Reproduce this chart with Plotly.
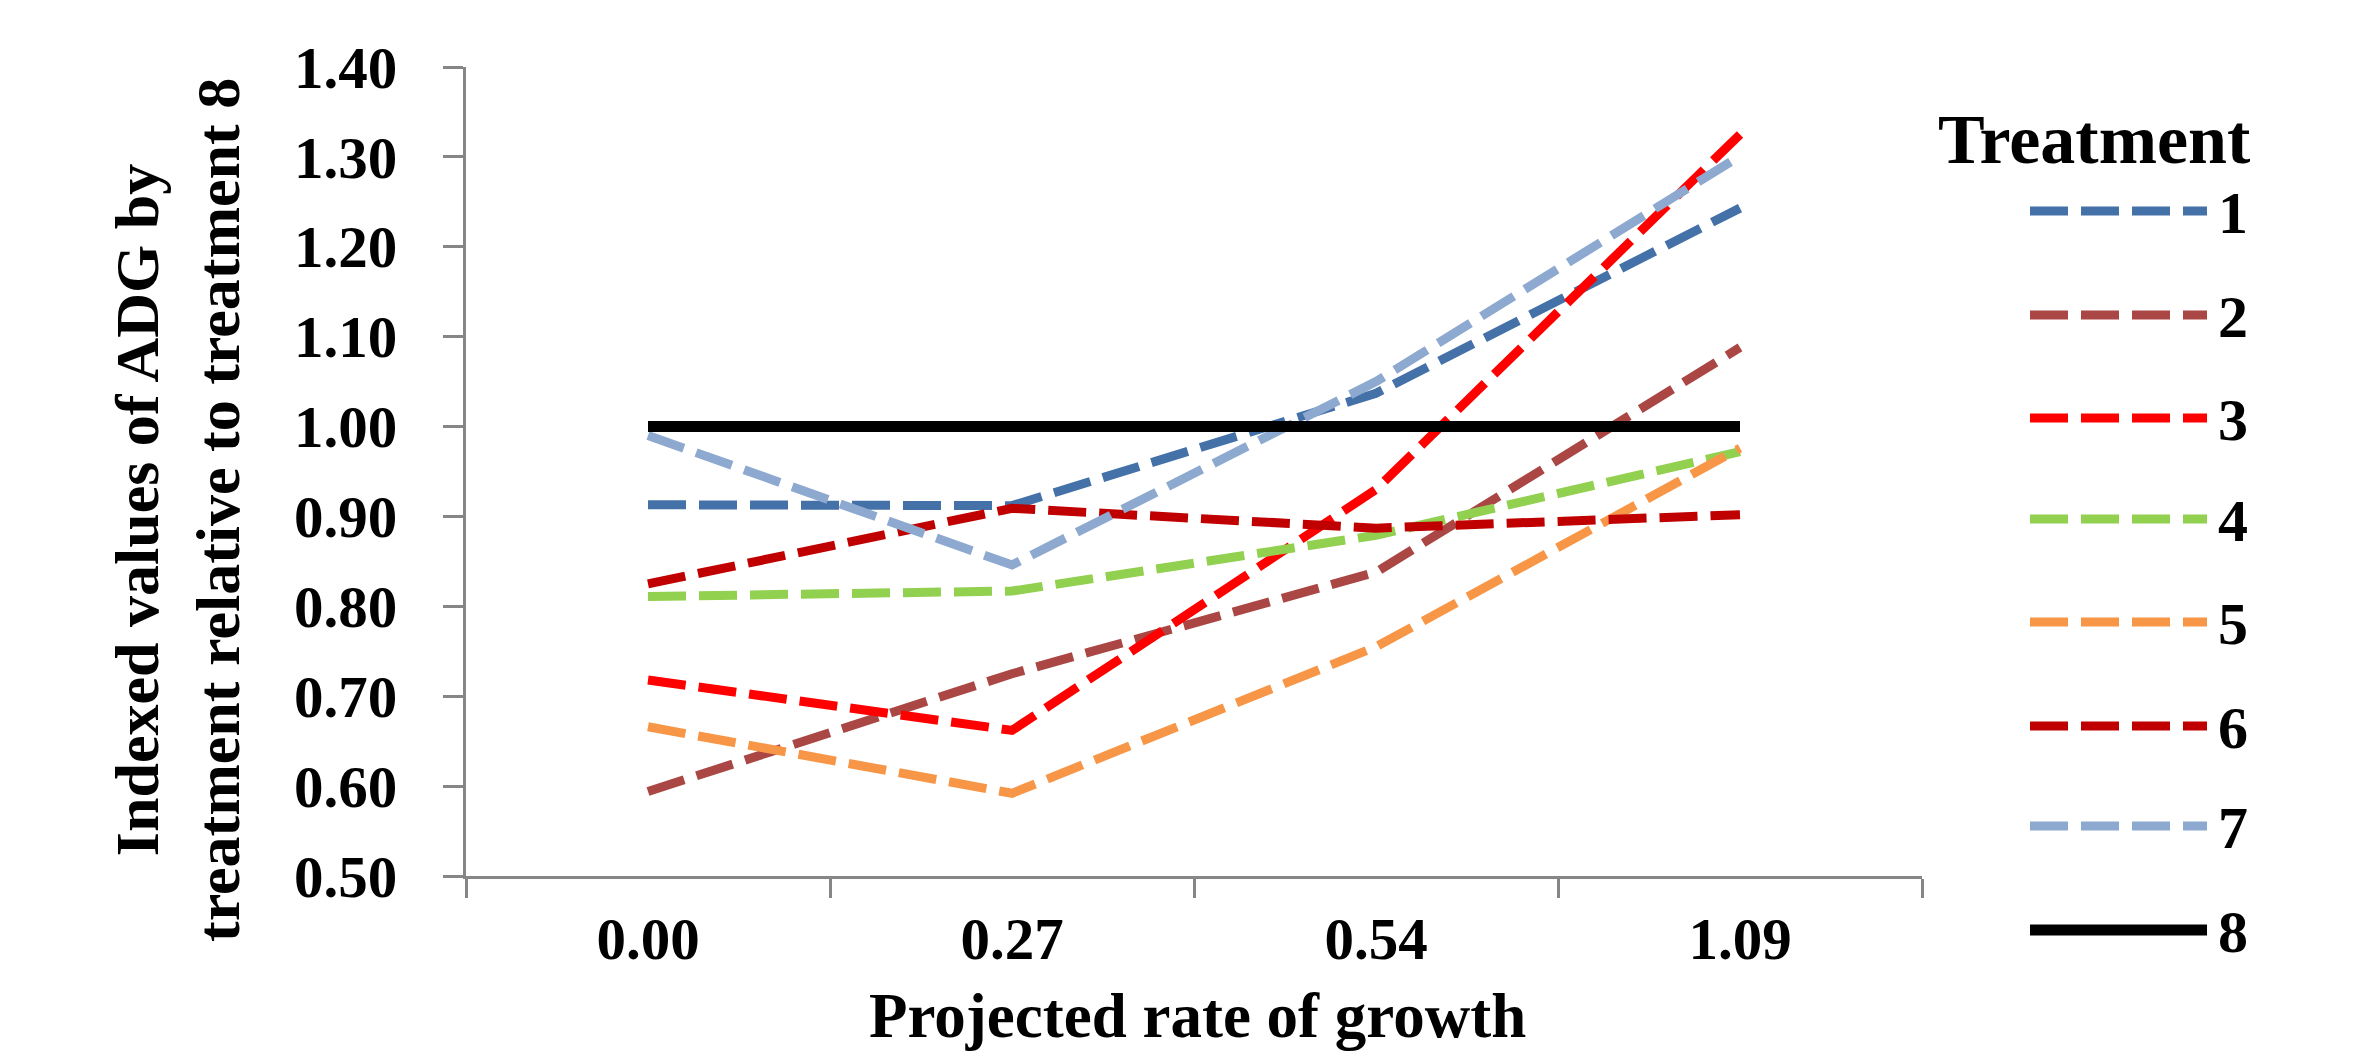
import plotly.graph_objects as go

# ---------------- data ----------------
categories = ["0.00", "0.27", "0.54", "1.09"]
treatment_names = ["1", "2", "3", "4", "5", "6", "7", "8"]
t1 = [0.913, 0.912, 1.037, 1.243]
t2 = [0.594, 0.725, 0.838, 1.088]
t3 = [0.718, 0.662, 0.930, 1.325]
t4 = [0.811, 0.817, 0.879, 0.972]
t5 = [0.666, 0.592, 0.755, 0.976]
t6 = [0.825, 0.909, 0.887, 0.902]
t7 = [0.990, 0.846, 1.050, 1.301]
t8 = [1.000, 1.000, 1.000, 1.000]
y_tick_values = [0.5, 0.6, 0.7, 0.8, 0.9, 1.0, 1.1, 1.2, 1.3, 1.4]

series = [t1, t2, t3, t4, t5, t6, t7, t8]
colors = ["#4471A8", "#AA4643", "#FF0000", "#92D050",
          "#F79646", "#C00000", "#8EA9D0", "#000000"]
dashes = ["38px,13px"] * 7 + ["solid"]
widths = [9] * 7 + [11]

# page body has an 8px default margin: compensate
OFF = 8
WIN_W, WIN_H = 2367, 1061
W, H = WIN_W - OFF, WIN_H - OFF
L, R, T, B = 466, 1922, 67, 876  # plot area in window px
FONT = "Liberation Serif, Times New Roman, serif"
AXIS_GRAY = "#868686"


def px_x(px):
    return (px - L) / (R - L)


def px_y(py):
    return (B - py) / (B - T)


fig = go.Figure()
for name, vals, c, d, w in zip(treatment_names, series, colors, dashes, widths):
    fig.add_trace(go.Scatter(
        x=categories, y=vals, mode="lines", name=name,
        line=dict(color=c, dash=d, width=w), showlegend=False,
    ))

fig.update_layout(
    width=W, height=H,
    margin=dict(l=L - OFF, r=W - (R - OFF), t=T - OFF, b=H - (B - OFF), pad=0),
    paper_bgcolor="white", plot_bgcolor="white",
    font=dict(family=FONT, color="black"),
    showlegend=False,
)

fig.update_xaxes(
    type="category", range=[-0.5, 3.5], automargin=False,
    showline=True, linecolor=AXIS_GRAY, linewidth=3,
    ticks="outside", tickson="boundaries", ticklen=19, tickwidth=2.5,
    tickcolor=AXIS_GRAY, showgrid=False, zeroline=False,
    tickfont=dict(family=FONT, size=59, weight="bold", color="black"),
    ticklabelstandoff=9,
)
fig.update_yaxes(
    range=[0.5, 1.4], automargin=False,
    tickvals=y_tick_values, tickformat=".2f",
    showline=True, linecolor=AXIS_GRAY, linewidth=3,
    ticks="outside", ticklen=20, tickwidth=2.5, tickcolor=AXIS_GRAY,
    showgrid=False, zeroline=False,
    tickfont=dict(family=FONT, size=59, weight="bold", color="black"),
    ticklabelstandoff=34,
)

annotations = []
# axis titles
annotations.append(dict(
    text="Indexed values of ADG by<br>treatment relative to treatment 8",
    xref="paper", yref="paper", x=px_x(178), y=px_y(510),
    xanchor="center", yanchor="middle", textangle=-90, showarrow=False,
    font=dict(family=FONT, size=62, weight="bold", color="black"),
))
annotations.append(dict(
    text="Projected rate of growth",
    xref="paper", yref="paper", x=px_x(1197), y=px_y(1016),
    xanchor="center", yanchor="middle", showarrow=False,
    font=dict(family=FONT, size=63, weight="bold", color="black"),
))
# manual legend
annotations.append(dict(
    text="Treatment", xref="paper", yref="paper",
    x=px_x(2094), y=px_y(140), xanchor="center", yanchor="middle",
    showarrow=False,
    font=dict(family=FONT, size=70, weight="bold", color="black"),
))
legend_rows = [211, 315, 418, 519, 622, 726, 826, 930]
shapes = []
for name, c, d, w, ry in zip(treatment_names, colors, dashes, widths, legend_rows):
    shapes.append(dict(
        type="line", xref="paper", yref="paper",
        x0=px_x(2030), x1=px_x(2207), y0=px_y(ry), y1=px_y(ry),
        line=dict(color=c, width=w, dash=d),
    ))
    annotations.append(dict(
        text=name, xref="paper", yref="paper",
        x=px_x(2216), y=px_y(ry + 2), xanchor="left", yanchor="middle",
        showarrow=False,
        font=dict(family=FONT, size=60, weight="bold", color="black"),
    ))

fig.update_layout(annotations=annotations, shapes=shapes)

fig.write_html("out.html")
